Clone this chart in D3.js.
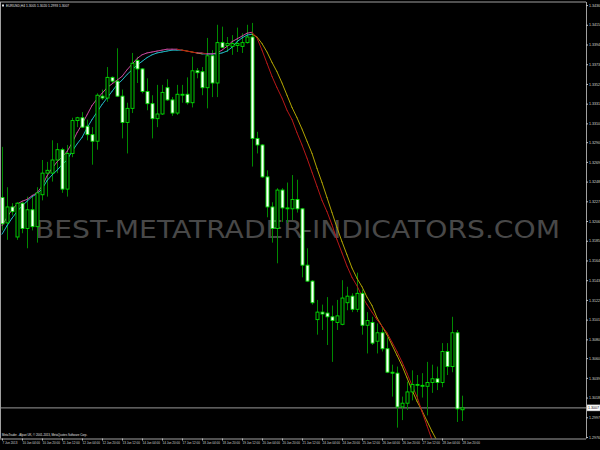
<!DOCTYPE html>
<html><head><meta charset="utf-8">
<script src="https://cdn.jsdelivr.net/npm/d3@7"></script>
<style>html,body{margin:0;padding:0;background:#000;overflow:hidden}</style>
</head><body>
<svg id="c" width="600" height="450"></svg>
<script>
const titleText = "EURUSD,H4  1.3005 1.3020 1.2993 1.3007";
const copyrightText = "MetaTrader - Alpari UK, \u00A9 2001-2013, MetaQuotes Software Corp.";
const watermarkText = "BEST-METATRADER-INDICATORS.COM";
const lastPrice = 1.3007;

const timeLabels = ["7 Jun 2013","10 Jun 04:00","10 Jun 20:00","11 Jun 12:00","12 Jun 04:00","12 Jun 20:00",
  "13 Jun 12:00","14 Jun 04:00","14 Jun 20:00","17 Jun 12:00","18 Jun 04:00","18 Jun 20:00","19 Jun 12:00",
  "20 Jun 04:00","20 Jun 20:00","21 Jun 12:00","24 Jun 04:00","24 Jun 20:00","25 Jun 12:00","26 Jun 04:00",
  "26 Jun 20:00","27 Jun 12:00","28 Jun 04:00","28 Jun 20:00"];

const priceTicks = ["1.3436","1.3415","1.3394","1.3373","1.3352","1.3331","1.3310","1.3290","1.3269","1.3248",
  "1.3227","1.3206","1.3185","1.3164","1.3143","1.3122","1.3101","1.3080","1.3060","1.3039","1.3018","1.2997","1.2976"];

const open = [1.3231,1.3204,1.3221,1.3189,1.3225,1.3198,1.3218,1.3200,1.3234,1.3257,
  1.3257,1.3271,1.3282,1.3240,1.3278,1.3313,1.3316,1.3307,1.3298,1.3291,
  1.3339,1.3337,1.3359,1.3355,1.3339,1.3311,1.3326,1.3377,1.3368,1.3344,
  1.3331,1.3315,1.3320,1.3348,1.3335,1.3321,1.3340,1.3341,1.3332,1.3366,
  1.3365,1.3348,1.3382,1.3353,1.3396,1.3393,1.3392,1.3393,1.3392,1.3396,
  1.3402,1.3294,1.3287,1.3253,1.3221,1.3198,1.3239,1.3219,1.3219,1.3229,
  1.3219,1.3159,1.3142,1.3101,1.3109,1.3108,1.3104,1.3098,1.3096,1.3119,
  1.3126,1.3112,1.3129,1.3095,1.3098,1.3078,1.3087,1.3070,1.3045,1.3044,
  1.3008,1.3012,1.3024,1.3031,1.3030,1.3030,1.3034,1.3038,1.3034,1.3067,
  1.3051,1.3087,1.3005];
const high = [1.3285,1.3242,1.3225,1.3226,1.3226,1.3232,1.3234,1.3242,1.3271,1.3269,
  1.3292,1.3289,1.3284,1.3287,1.3316,1.3317,1.3322,1.3314,1.3306,1.3342,
  1.3346,1.3370,1.3360,1.3390,1.3346,1.3332,1.3385,1.3381,1.3369,1.3358,
  1.3340,1.3351,1.3351,1.3357,1.3338,1.3351,1.3351,1.3359,1.3381,1.3369,
  1.3370,1.3401,1.3388,1.3415,1.3413,1.3402,1.3404,1.3412,1.3406,1.3415,
  1.3417,1.3301,1.3288,1.3260,1.3226,1.3241,1.3241,1.3247,1.3255,1.3250,
  1.3220,1.3177,1.3143,1.3122,1.3117,1.3125,1.3116,1.3122,1.3143,1.3136,
  1.3129,1.3151,1.3133,1.3109,1.3104,1.3097,1.3092,1.3082,1.3053,1.3051,
  1.3019,1.3035,1.3047,1.3042,1.3044,1.3056,1.3053,1.3051,1.3076,1.3076,
  1.3104,1.3090,1.3020];
const low = [1.3196,1.3186,1.3212,1.3186,1.3193,1.3177,1.3196,1.3183,1.3228,1.3232,
  1.3248,1.3257,1.3236,1.3232,1.3274,1.3306,1.3305,1.3292,1.3266,1.3282,
  1.3335,1.3333,1.3353,1.3338,1.3294,1.3278,1.3321,1.3353,1.3342,1.3324,
  1.3294,1.3306,1.3319,1.3334,1.3318,1.3319,1.3332,1.3330,1.3327,1.3358,
  1.3340,1.3326,1.3338,1.3338,1.3390,1.3386,1.3383,1.3386,1.3385,1.3395,
  1.3264,1.3278,1.3252,1.3210,1.3183,1.3161,1.3205,1.3204,1.3207,1.3215,
  1.3146,1.3141,1.3117,1.3085,1.3090,1.3074,1.3056,1.3090,1.3095,1.3111,
  1.3109,1.3109,1.3085,1.3065,1.3074,1.3065,1.3067,1.3044,1.3019,1.2986,
  1.2994,1.3005,1.3015,1.3015,1.3018,1.2999,1.3023,1.3026,1.3029,1.3042,
  1.3045,1.2992,1.2993];
const close = [1.3203,1.3221,1.3216,1.3225,1.3198,1.3218,1.3200,1.3236,1.3257,1.3260,
  1.3271,1.3282,1.3240,1.3278,1.3313,1.3316,1.3306,1.3298,1.3291,1.3340,
  1.3337,1.3359,1.3355,1.3339,1.3311,1.3326,1.3374,1.3368,1.3344,1.3331,
  1.3315,1.3320,1.3343,1.3335,1.3321,1.3341,1.3341,1.3332,1.3366,1.3364,
  1.3348,1.3382,1.3353,1.3396,1.3391,1.3395,1.3395,1.3395,1.3396,1.3402,
  1.3294,1.3287,1.3253,1.3221,1.3198,1.3239,1.3220,1.3220,1.3229,1.3219,
  1.3159,1.3142,1.3119,1.3109,1.3107,1.3104,1.3100,1.3105,1.3124,1.3126,
  1.3112,1.3129,1.3095,1.3100,1.3076,1.3087,1.3070,1.3045,1.3044,1.3008,
  1.3012,1.3024,1.3032,1.3032,1.3031,1.3034,1.3038,1.3034,1.3067,1.3051,
  1.3087,1.3006,1.3007];

const fastMA = [1.3201,1.3210,1.3218,1.3224,1.3227,1.3229,1.3233,1.3236,1.3243,1.3254,
  1.3262,1.3269,1.3274,1.3280,1.3289,1.3300,1.3309,1.3319,1.3329,1.3336,
  1.3342,1.3348,1.3352,1.3356,1.3360,1.3367,1.3373,1.3379,1.3383,1.3385,
  1.3386,1.3387,1.3388,1.3389,1.3389,1.3389,1.3388,1.3387,1.3386,1.3385,
  1.3385,1.3384,1.3384,1.3385,1.3388,1.3392,1.3397,1.3400,1.3403,1.3406,
  1.3407,1.3401,1.3388,1.3374,1.3360,1.3348,1.3337,1.3324,1.3314,1.3300,
  1.3287,1.3273,1.3258,1.3243,1.3228,1.3216,1.3202,1.3186,1.3172,1.3158,
  1.3146,1.3137,1.3126,1.3117,1.3109,1.3101,1.3094,1.3087,1.3077,1.3067,
  1.3056,1.3044,1.3031,1.3019,1.3003,1.2988,1.2973,1.2958];
const slowMA = [1.3192,1.3201,1.3209,1.3216,1.3222,1.3227,1.3232,1.3235,1.3240,1.3249,
  1.3255,1.3260,1.3266,1.3271,1.3280,1.3288,1.3295,1.3305,1.3314,1.3322,
  1.3330,1.3337,1.3344,1.3351,1.3356,1.3362,1.3367,1.3372,1.3376,1.3380,
  1.3383,1.3385,1.3386,1.3387,1.3388,1.3388,1.3388,1.3387,1.3386,1.3385,
  1.3384,1.3384,1.3384,1.3384,1.3385,1.3387,1.3391,1.3397,1.3401,1.3404,
  1.3405,1.3402,1.3395,1.3386,1.3375,1.3365,1.3353,1.3340,1.3327,1.3316,
  1.3304,1.3291,1.3278,1.3262,1.3247,1.3231,1.3215,1.3199,1.3184,1.3170,
  1.3156,1.3145,1.3136,1.3125,1.3116,1.3103,1.3094,1.3085,1.3074,1.3063,
  1.3052,1.3039,1.3026,1.3014,1.3004,1.2993,1.2982,1.2972,1.2960];

const W = 600, H = 450;
const plotRight = 586, plotTop = 2, plotBottom = 438.5;
const svg = d3.select("#c");
svg.append("rect").attr("width", W).attr("height", H).attr("fill", "#000");

const x = d3.scaleLinear().domain([0, 92]).range([2, 462]);
const y = d3.scaleLinear().domain([1.2976, 1.3436]).range([437, 5.07]);

svg.append("defs").append("clipPath").attr("id", "plot")
  .append("rect").attr("x", 0).attr("y", plotTop).attr("width", plotRight).attr("height", plotBottom - plotTop);

// watermark
svg.append("text").attr("x", 35).attr("y", 238)
  .attr("textLength", 525).attr("lengthAdjust", "spacingAndGlyphs")
  .attr("font-family", "DejaVu Sans").attr("font-size", 24)
  .attr("fill", "#484848").text(watermarkText);

const g = svg.append("g").attr("clip-path", "url(#plot)");

// current price line
g.append("line").attr("x1", 0).attr("x2", plotRight)
  .attr("y1", y(lastPrice)).attr("y2", y(lastPrice))
  .attr("stroke", "#9a9a9a").attr("stroke-width", 1);

// moving averages, coloured by slope
function drawMA(vals, upCol, downCol) {
  const segs = d3.range(vals.length - 1).map(i => ({i, up: vals[i + 1] >= vals[i]}));
  g.selectAll(null).data(segs).join("line")
    .attr("x1", d => x(d.i)).attr("x2", d => x(d.i + 1))
    .attr("y1", d => y(vals[d.i])).attr("y2", d => y(vals[d.i + 1]))
    .attr("stroke", d => d.up ? upCol : downCol)
    .attr("stroke-width", 1).attr("stroke-linecap", "round");
}

const bars = open.map((o, i) => ({i, o, h: high[i], l: low[i], c: close[i]}));

// wicks
g.selectAll(".wick").data(bars).join("line").attr("class", "wick")
  .attr("x1", d => x(d.i) + 0.5).attr("x2", d => x(d.i) + 0.5)
  .attr("y1", d => y(d.h)).attr("y2", d => y(d.l))
  .attr("stroke", "#008a00").attr("stroke-width", 1);

drawMA(slowMA, "#22b8c4", "#b0a400");
drawMA(fastMA, "#c8489e", "#b81818");

// bodies
g.selectAll(".body").data(bars).join("rect").attr("class", "body")
  .attr("x", d => x(d.i) - 1)
  .attr("width", 3)
  .attr("y", d => y(Math.max(d.o, d.c)))
  .attr("height", d => Math.max(0.6, Math.abs(y(d.o) - y(d.c))))
  .attr("fill", d => d.c < d.o ? "#ffffff" : "#000000")
  .attr("stroke", "#00e000").attr("stroke-width", 0.9);

// frame
svg.append("line").attr("x1", 0).attr("x2", plotRight).attr("y1", plotTop).attr("y2", plotTop).attr("stroke", "#a0a0a0");
svg.append("line").attr("x1", 0.5).attr("x2", 0.5).attr("y1", plotTop).attr("y2", plotBottom).attr("stroke", "#a0a0a0");

// price axis
const yAxis = d3.axisRight(y).tickValues(priceTicks.map(Number))
  .tickFormat((d, i) => priceTicks[i]).tickSize(2).tickPadding(1);
const ya = svg.append("g").attr("transform", `translate(${plotRight},0)`).call(yAxis);
ya.select(".domain").attr("stroke", "#a0a0a0").attr("d", `M0.5,${plotTop}V${plotBottom}`);
ya.selectAll(".tick line").attr("stroke", "#c0c0c0");
ya.selectAll(".tick text").attr("fill", "#d8d8d8").attr("font-family", "Liberation Sans").attr("font-size", 3.6);

// time axis
const xAxis = d3.axisBottom(x).tickValues(d3.range(0, 93, 4))
  .tickFormat((d, i) => timeLabels[i]).tickSize(2).tickPadding(1);
const xa = svg.append("g").attr("transform", `translate(0,${plotBottom})`).call(xAxis);
xa.select(".domain").attr("stroke", "#a0a0a0").attr("d", `M0,0.5H${plotRight}`);
xa.selectAll(".tick line").attr("stroke", "#c0c0c0");
xa.selectAll(".tick text").attr("fill", "#d8d8d8").attr("font-family", "Liberation Sans")
  .attr("font-size", 3.0).attr("text-anchor", "start").attr("dy", "0.9em");

// current price label
const lp = y(lastPrice);
svg.append("rect").attr("x", plotRight + 1).attr("y", lp - 3).attr("width", 13).attr("height", 6)
  .attr("fill", "#ffffff").attr("stroke", "#c0c0c0").attr("stroke-width", 0.5);
svg.append("text").attr("x", plotRight + 2).attr("y", lp + 1.3)
  .attr("font-family", "Liberation Sans").attr("font-size", 3.6).attr("fill", "#000").text(lastPrice.toFixed(4));

// title
svg.append("rect").attr("x", 2).attr("y", 4.5).attr("width", 2).attr("height", 2).attr("fill", "#e0e0e0");
svg.append("text").attr("x", 6).attr("y", 7).attr("font-family", "Liberation Sans")
  .attr("font-size", 3.3).attr("fill", "#e0e0e0").text(titleText);

// copyright
svg.append("text").attr("x", 2).attr("y", 436).attr("font-family", "Liberation Sans")
  .attr("font-size", 2.9).attr("fill", "#e0e0e0").text(copyrightText);
</script>
</body></html>
